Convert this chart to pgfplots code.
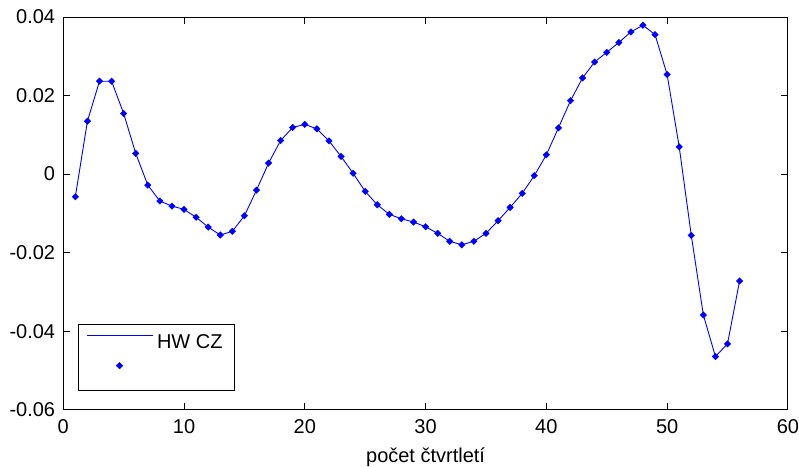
\documentclass[border=0pt]{standalone}
\usepackage{fontspec}
\setmainfont{Liberation Sans}
\usepackage{pgfplots}
\pgfplotsset{compat=1.18}
\definecolor{mblue}{RGB}{0,0,255}
\pgfplotsset{
  lineleg/.style={legend image code/.code={\draw[draw=mblue, line width=0.9pt] (0pt,7pt) -- (66pt,7pt);}},
  markleg/.style={legend image code/.code={\path[draw=none] (0pt,7pt) -- (66pt,7pt);
     \path[draw=none] plot[mark=square*, mark size=2.3pt, mark options={rotate=45, fill=mblue, draw=mblue}] coordinates {(33pt,7pt)};}},
}
\pgfplotstableread{
x y
1 -0.00577
2 0.01348
3 0.02365
4 0.02365
5 0.01543
6 0.00526
7 -0.0028
8 -0.00686
9 -0.00814
10 -0.00898
11 -0.0110
12 -0.01348
13 -0.0155
14 -0.01457
15 -0.0106
16 -0.00407
17 0.0028
18 0.00857
19 0.01187
20 0.01266
21 0.01152
22 0.00847
23 0.0045
24 0.0002
25 -0.0044
26 -0.0078
27 -0.01025
28 -0.01137
29 -0.0122
30 -0.0134
31 -0.01508
32 -0.0171
33 -0.0180
34 -0.0171
35 -0.01508
36 -0.01187
37 -0.00847
38 -0.0049
39 -0.0004
40 0.0049
41 0.01177
42 0.0187
43 0.02449
44 0.02855
45 0.0310
46 0.0335
47 0.0362
48 0.0379
49 0.0355
50 0.02535
51 0.00694
52 -0.01559
53 -0.03585
54 -0.04645
55 -0.0432
56 -0.0272
}\hwdata
\begin{document}
\begin{tikzpicture}[font=\fontsize{20}{24}\selectfont]
\begin{axis}[
  scale only axis, width=725pt, height=393pt,
  xmin=0, xmax=60, ymin=-0.06, ymax=0.04,
  scaled x ticks=false, scaled y ticks=false,
  xtick={0,10,20,30,40,50,60}, xticklabels={0,10,20,30,40,50,60},
  ytick={-0.06,-0.04,-0.02,0,0.02,0.04},
  yticklabels={-0.06,-0.04,-0.02,0,0.02,0.04},
  tick align=inside, major tick length=7pt,
  tick style={black, line width=0.8pt},
  axis line style={black, line width=0.8pt},
  xticklabel style={inner sep=0pt, yshift=-10pt},
  yticklabel style={inner sep=0pt, xshift=-8pt},
  xlabel={počet čtvrtletí},
  xlabel style={at={(axis description cs:0.5,0)}, anchor=base, yshift=-53pt, inner sep=0pt},
  legend style={name=leg, at={(0.0203,0.0483)}, anchor=south west, draw=none, fill=white,
     inner xsep=8pt, inner ysep=6pt, row sep=6pt,
     nodes={text height=15pt, text depth=3pt, inner xsep=4pt, inner ysep=3pt}},
  legend cell align=left,
]
\coordinate (sw) at (rel axis cs:0,0);
\coordinate (ne) at (rel axis cs:1,1);
\addplot[color=mblue, line width=0.9pt, no marks, lineleg]
  table[x=x, y=y] {\hwdata};
\addlegendentry{HW CZ}
\addplot[color=mblue, only marks, mark=square*, mark size=2.3pt,
  mark options={rotate=45, fill=mblue, draw=mblue}, markleg]
  table[x=x, y=y] {\hwdata};
\addlegendentry{\mbox{}}
\end{axis}
\draw[black, line width=0.8pt] (leg.south west) rectangle (leg.north east);
\path (sw) ++(-63.3pt,-56pt);
\path (ne) ++(10.7pt,17pt);
\end{tikzpicture}
\end{document}
